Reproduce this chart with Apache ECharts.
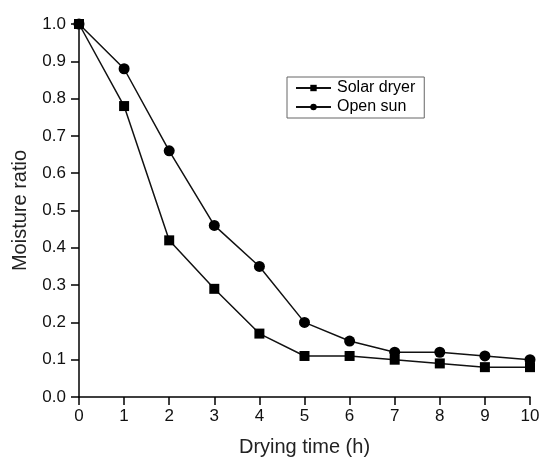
<!DOCTYPE html>
<html>
<head>
<meta charset="utf-8">
<script src="https://cdn.jsdelivr.net/npm/echarts@6/dist/echarts.min.js"></script>
<style>
  html, body { margin: 0; padding: 0; background: #fff; }
  #main { width: 544px; height: 459px; }
</style>
</head>
<body>
<div id="main"></div>
<script type="text/javascript">
    // drying time (h)
    var hours = [0, 1, 2, 3, 4, 5, 6, 7, 8, 9, 10];
    var solarDryer = [1.0, 0.78, 0.42, 0.29, 0.17, 0.11, 0.11, 0.10, 0.09, 0.08, 0.08];
    var openSun = [1.0, 0.88, 0.66, 0.46, 0.35, 0.20, 0.15, 0.12, 0.12, 0.11, 0.10];

    function pairs(ys) {
        return hours.map(function (h, i) { return [h, ys[i]]; });
    }

    var myChart = echarts.init(document.getElementById('main'));
    var font = 'Liberation Sans, Arial, sans-serif';
    var option = {
        animation: false,
        grid: { left: 79, right: 14, top: 24, bottom: 62, outerBoundsMode: 'none' },
        legend: {
            orient: 'vertical',
            left: 287,
            top: 77,
            padding: [3, 9, 3, 8],
            itemGap: 3,
            itemWidth: 35,
            itemHeight: 8,
            borderColor: '#666',
            borderWidth: 1,
            borderRadius: 0,
            textStyle: { fontFamily: font, fontSize: 16, lineHeight: 16, color: '#000', padding: [0, 0, 0, 1] },
            data: ['Solar dryer', 'Open sun']
        },
        xAxis: {
            type: 'value',
            min: 0, max: 10, interval: 1,
            name: 'Drying time (h)',
            nameLocation: 'middle',
            nameGap: 40,
            nameTextStyle: { fontFamily: font, fontSize: 20, color: '#222' },
            axisLine: { lineStyle: { color: '#000', width: 1.5 } },
            axisTick: { inside: false, length: 8, lineStyle: { color: '#000', width: 1.5 } },
            axisLabel: { fontFamily: font, fontSize: 17, color: '#111', margin: 11 },
            splitLine: { show: false }
        },
        yAxis: {
            type: 'value',
            min: 0, max: 1.0, interval: 0.1,
            name: 'Moisture ratio',
            nameLocation: 'middle',
            nameGap: 49,
            nameTextStyle: { fontFamily: font, fontSize: 20, color: '#222' },
            axisLine: { show: true, lineStyle: { color: '#000', width: 1.5 } },
            axisTick: { show: true, inside: false, length: 8, lineStyle: { color: '#000', width: 1.5 } },
            axisLabel: {
                fontFamily: font, fontSize: 17, color: '#111', margin: 13,
                formatter: function (v) { return v.toFixed(1); }
            },
            splitLine: { show: false }
        },
        series: [
            {
                name: 'Solar dryer',
                type: 'line',
                data: pairs(solarDryer),
                symbol: 'rect',
                symbolSize: 10,
                itemStyle: { color: '#000' },
                lineStyle: { color: '#111', width: 1.5 }
            },
            {
                name: 'Open sun',
                type: 'line',
                data: pairs(openSun),
                symbol: 'circle',
                symbolSize: 11,
                itemStyle: { color: '#000' },
                lineStyle: { color: '#111', width: 1.5 }
            }
        ]
    };
    myChart.setOption(option);
</script>
</body>
</html>
